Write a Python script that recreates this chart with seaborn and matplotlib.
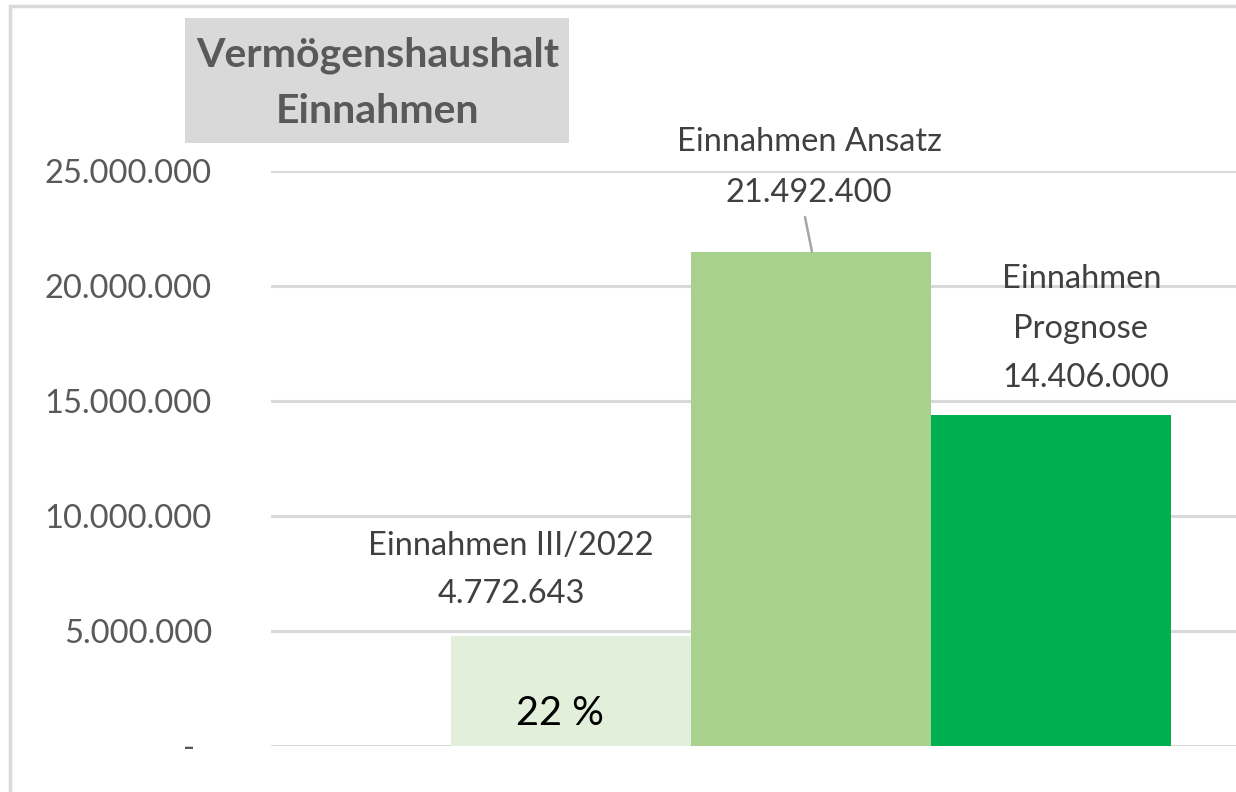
import matplotlib
matplotlib.use("Agg")
import matplotlib.pyplot as plt
from matplotlib.patches import Rectangle
from matplotlib.ticker import FuncFormatter
import pandas as pd
import seaborn as sns

# Series and values
kategorien = ["Einnahmen III/2022", "Einnahmen Ansatz", "Einnahmen Prognose"]
werte = [4772643, 21492400, 14406000]
farben = ["#E2EFDA", "#A9D18E", "#00B050"]
anteil_text = "22 %"
titel_zeilen = ["Vermögenshaushalt", "Einnahmen"]
y_ticks = [0, 5000000, 10000000, 15000000, 20000000, 25000000]

sns.set_theme(style="white")
plt.rcParams["font.family"] = ["Lato", "DejaVu Sans"]

W, H = 1236, 792
fig = plt.figure(figsize=(W / 100, H / 100), dpi=100)
fig.patch.set_facecolor("white")

def px(x0, y0, x1, y1):
    """Figure rectangle from pixel edges (top-left origin)."""
    return [x0 / W, 1 - y1 / H, (x1 - x0) / W, (y1 - y0) / H]

ax = fig.add_axes(px(271, 171, 1351, 746))

df = pd.DataFrame({"Kategorie": kategorien, "Wert": werte})
sns.barplot(data=df, x="Kategorie", y="Wert", hue="Kategorie",
            palette=farben, width=1.0, saturation=1, legend=False,
            linewidth=0, edgecolor="none", ax=ax, zorder=3)

ax.set_xlim(-1.25, 3.25)
ax.set_ylim(0, 25000000)
ax.set_yticks(y_ticks)


def fmt(v):
    return f"{v:,.0f}".replace(",", ".")


ax.yaxis.set_major_formatter(FuncFormatter(
    lambda v, _: "-  " if v == 0 else fmt(v)))
ax.grid(axis="y", color="#D9D9D9", linewidth=2.2, zorder=0)
ax.set_axisbelow(True)
ax.tick_params(axis="y", length=0, pad=42.5, labelsize=23.5,
               labelcolor="#595959")
ax.tick_params(axis="x", length=0, labelbottom=False)
ax.set_xlabel("")
ax.set_ylabel("")
for s in ax.spines.values():
    s.set_visible(False)

lbl = dict(ha="center", va="baseline", fontsize=23.5, color="#404040",
           clip_on=False, zorder=5)

# Data labels (category name + value), one line each
ax.text(-0.25, 8.30e6, "Einnahmen III/2022", **lbl)
ax.text(-0.25, 6.22e6, fmt(werte[0]), **lbl)

ax.text(0.992, 25.87e6, "Einnahmen Ansatz", **lbl)
ax.text(0.992, 23.65e6, fmt(werte[1]), **lbl)
ax.plot([0.975, 1.004], [23.0e6, werte[1]], color="#A6A6A6",
        linewidth=1.8, zorder=4, clip_on=False)

ax.text(2.129, 19.91e6, "Einnahmen", **lbl)
ax.text(2.121, 17.74e6, "Prognose", **lbl)
ax.text(2.144, 15.61e6, fmt(werte[2]), **lbl)

ax.text(-0.048, 0.913e6, anteil_text, ha="center", va="baseline",
        fontsize=28.5, color="black", zorder=5)

# Title box
fig.patches.append(Rectangle((185 / W, 1 - 143 / H), 384 / W, 125 / H,
                             transform=fig.transFigure, facecolor="#D9D9D9",
                             edgecolor="none", zorder=1))
for zeile, base in zip(titel_zeilen, [67, 123]):
    fig.text(377.5 / W, 1 - base / H, zeile, ha="center", va="baseline",
             fontsize=29.5, fontweight="bold", color="#595959", zorder=2)

# Chart frame
fig.patches.append(Rectangle((10 / W, -0.2), 1.3, 1.2 - 6 / H,
                             transform=fig.transFigure, facecolor="none",
                             edgecolor="#D9D9D9", linewidth=2.5, zorder=0))

fig.savefig("out.png", dpi=100)
